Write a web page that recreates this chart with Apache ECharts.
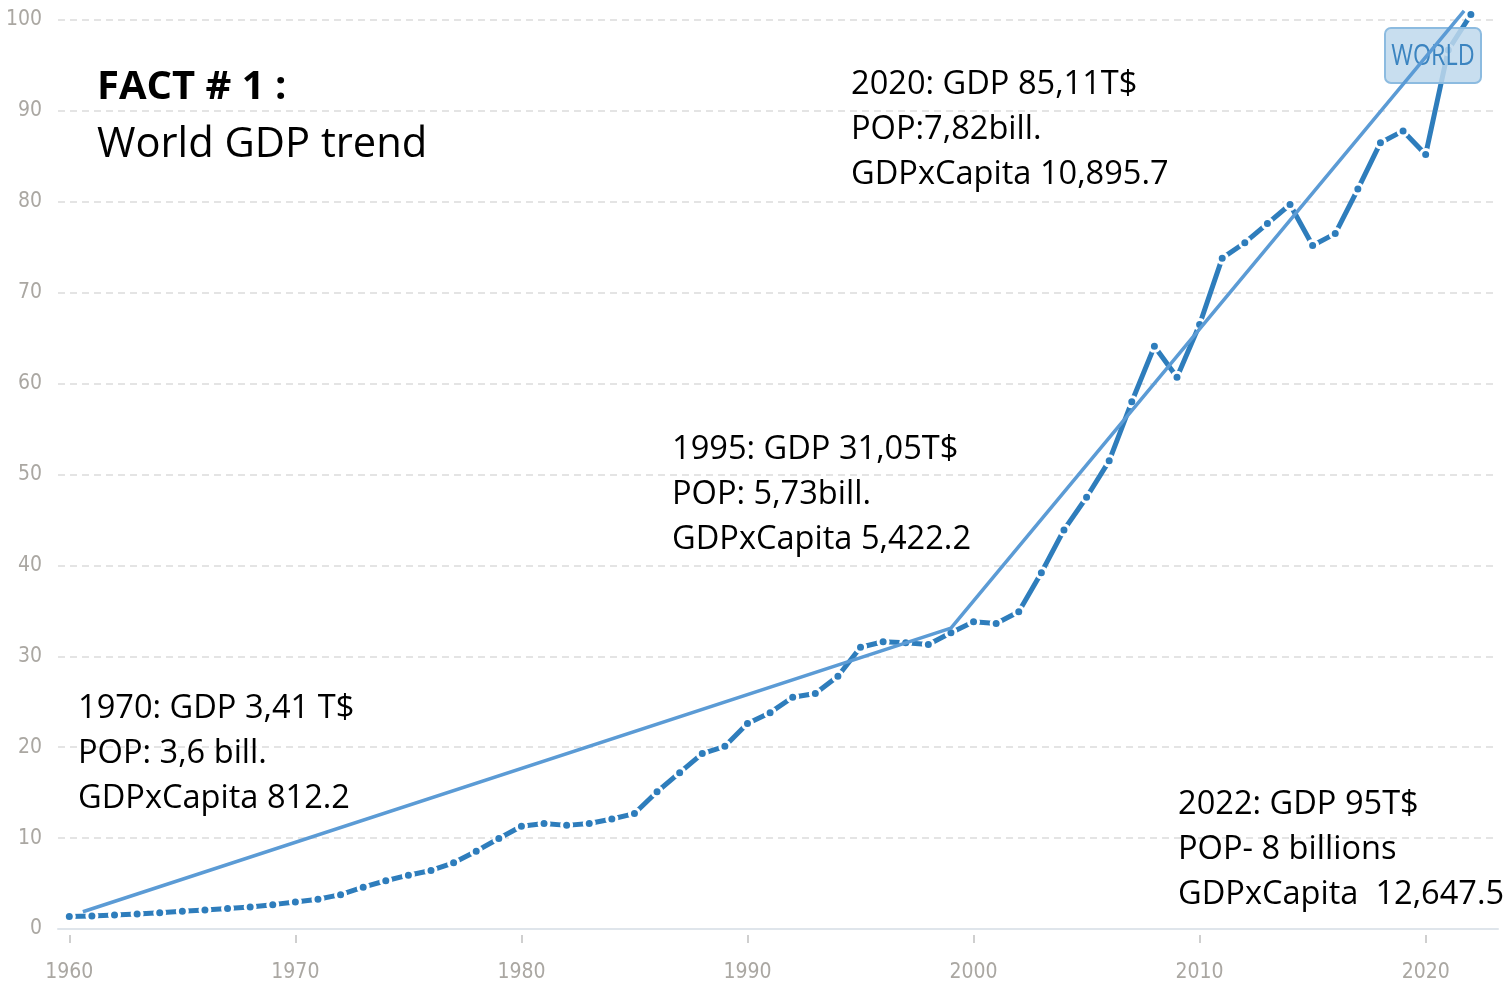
<!DOCTYPE html>
<html>
<head>
<meta charset="utf-8">
<script src="https://cdn.jsdelivr.net/npm/echarts@6/dist/echarts.min.js"></script>
<style>
html,body{margin:0;padding:0;background:#fff;}
#chart{width:1512px;height:996px;}
</style>
</head>
<body>
<div id="chart"></div>
<script>
// ---- data ----
const years = [1960,1961,1962,1963,1964,1965,1966,1967,1968,1969,
               1970,1971,1972,1973,1974,1975,1976,1977,1978,1979,
               1980,1981,1982,1983,1984,1985,1986,1987,1988,1989,
               1990,1991,1992,1993,1994,1995,1996,1997,1998,1999,
               2000,2001,2002,2003,2004,2005,2006,2007,2008,2009,
               2010,2011,2012,2013,2014,2015,2016,2017,2018,2019,
               2020,2021,2022];
const gdpTrillions = [1.37,1.43,1.53,1.64,1.79,1.95,2.10,2.25,2.43,2.68,
                      2.97,3.27,3.78,4.60,5.31,5.92,6.44,7.28,8.56,9.95,
                      11.3,11.6,11.4,11.6,12.1,12.7,15.1,17.2,19.3,20.1,
                      22.6,23.8,25.5,25.9,27.8,31.0,31.6,31.5,31.3,32.6,
                      33.8,33.6,34.9,39.2,43.9,47.5,51.5,58.0,64.1,60.7,
                      66.5,73.8,75.5,77.6,79.7,75.2,76.5,81.4,86.5,87.8,
                      85.2,96.7,100.6];
const trendX = [1960.6, 1999.0, 2021.7];
const trendY = [1.9, 33.1, 101.0];
const xTicks = [1960,1970,1980,1990,2000,2010,2020];

const mainData = years.map((y,i)=>[y,gdpTrillions[i]]);
const trendData = trendX.map((x,i)=>[x,trendY[i]]);

const axisFont = '"DejaVu Sans Condensed"';
const textFont = '"Open Sans","Noto Sans",sans-serif';
const labelColor = '#aaa7a2';

const chart = echarts.init(document.getElementById('chart'), null, {renderer:'canvas'});

const annotations = [
  {x:851, y:85, lines:['2020: GDP 85,11T$','POP:7,82bill.','GDPxCapita 10,895.7']},
  {x:672, y:450, lines:['1995: GDP 31,05T$','POP: 5,73bill.','GDPxCapita 5,422.2']},
  {x:78, y:709, lines:['1970: GDP 3,41 T$','POP: 3,6 bill.','GDPxCapita 812.2']},
  {x:1178, y:805, lines:['2022: GDP 95T$','POP- 8 billions','GDPxCapita  12,647.5']}
];
const graphics = [];
annotations.forEach(a=>{
  a.lines.forEach((t,j)=>{
    graphics.push({type:'text', x:a.x, y:a.y + j*45, z:10,
      style:{text:t, font:'32.6px '+textFont, fill:'#000', verticalAlign:'middle'}});
  });
});
graphics.push({type:'text', x:97, y:88, z:10,
  style:{text:'FACT # 1 :', font:'bold 40px '+textFont, fill:'#000', verticalAlign:'middle'}});
graphics.push({type:'text', x:97, y:145, z:10,
  style:{text:'World GDP trend', font:'41.7px '+textFont, fill:'#000', verticalAlign:'middle'}});
graphics.push({type:'rect', x:1385, y:28, z:3, shape:{x:0,y:0,width:96,height:55,r:6},
   style:{fill:'rgba(190,216,236,0.85)', stroke:'#8cbbe0', lineWidth:2}});
graphics.push({type:'text', x:1433, y:56, z:4, scaleX:0.78,
   style:{text:'WORLD', x:0, y:0, align:'center', verticalAlign:'middle',
   font:'30px "Open Sans",sans-serif', fill:'#3b84c0'}});

const option = {
  animation:false,
  backgroundColor:'#fff',
  grid:{left:58, right:14, top:20, bottom:67, containLabel:false},
  xAxis:[{
    type:'value', min:1959.5, max:2023.2,
    axisLine:{show:true, lineStyle:{color:'#dfe5eb', width:2}},
    axisTick:{show:false}, axisLabel:{show:false}, splitLine:{show:false}
  },{
    type:'value', min:1959.5, max:2023.2, position:'bottom', offset:6,
    axisLine:{show:false},
    axisTick:{show:true, customValues:xTicks, length:8, lineStyle:{color:'#cfcfcf', width:2}},
    axisLabel:{show:true, customValues:xTicks, color:labelColor, fontFamily:axisFont, fontSize:21, margin:27,
      formatter:v=>String(Math.round(v))},
    splitLine:{show:false}
  }],
  yAxis:{
    type:'value', min:0, max:100, interval:10,
    axisLine:{show:false}, axisTick:{show:false},
    axisLabel:{color:labelColor, fontFamily:axisFont, fontSize:21, margin:16},
    splitLine:{show:true, lineStyle:{color:'#e4e4e4', width:2, type:[7,5]}}
  },
  series:[{
    type:'line', data:mainData, xAxisIndex:0, clip:false, z:2,
    symbol:'circle', symbolSize:10, showSymbol:true,
    lineStyle:{color:'#2e7dbc', width:5},
    itemStyle:{color:'#2e7dbc', borderColor:'#fff', borderWidth:3},
    emphasis:{disabled:true}
  },{
    type:'line', data:trendData, xAxisIndex:0, clip:false, z:5,
    symbol:'none',
    lineStyle:{color:'#5b9bd5', width:3.5},
    emphasis:{disabled:true}
  }],
  graphic:graphics
};
chart.setOption(option);
</script>
</body>
</html>
